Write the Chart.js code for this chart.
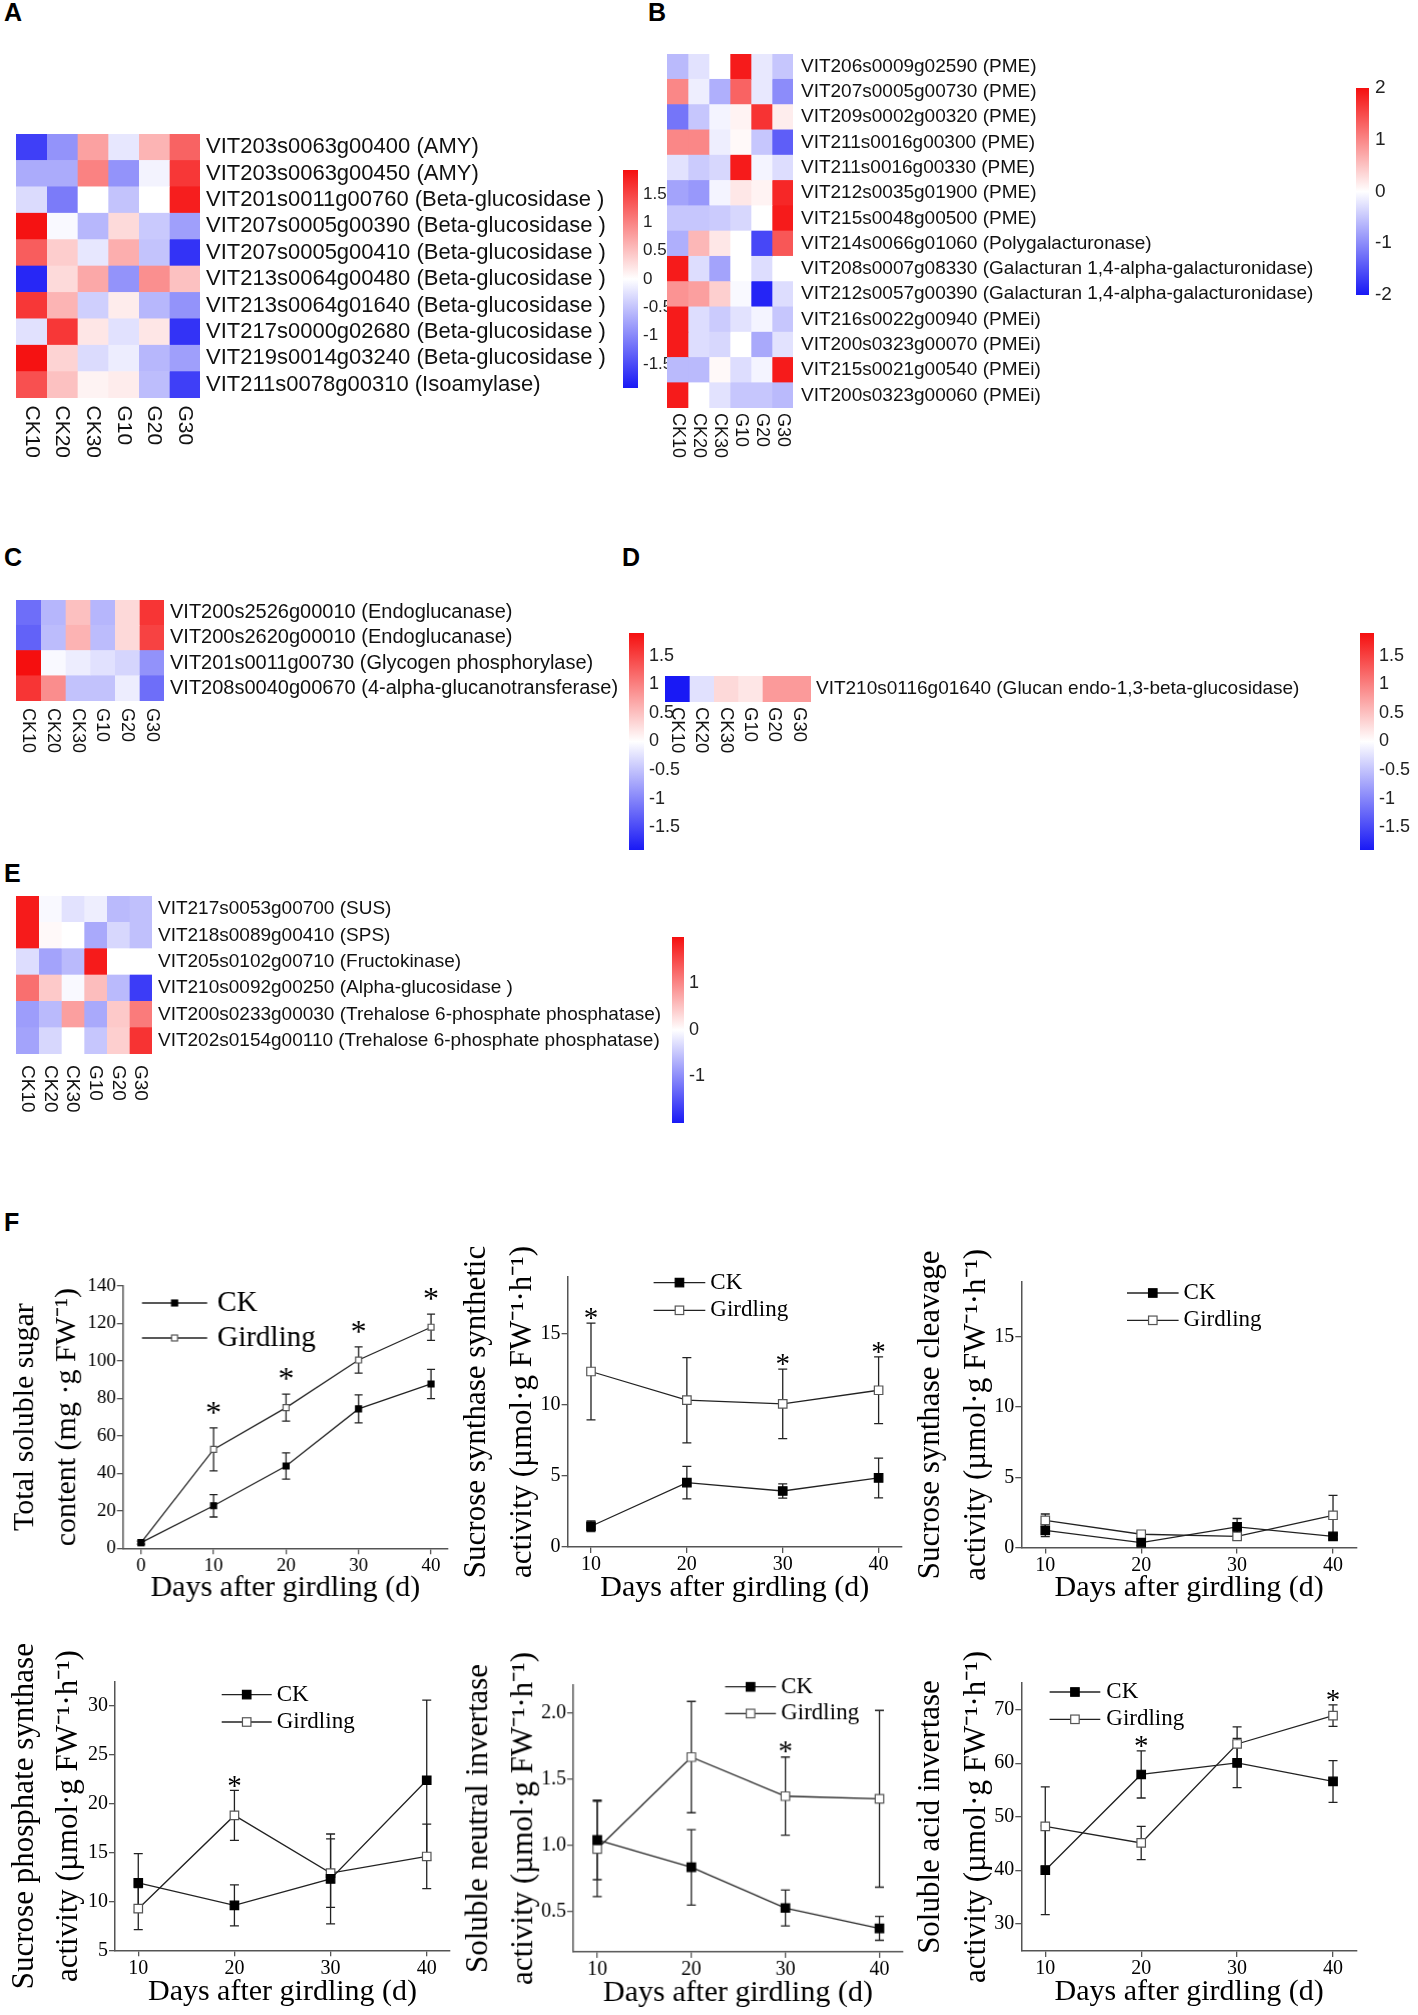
<!DOCTYPE html>
<html><head><meta charset="utf-8">
<script src="https://cdn.jsdelivr.net/npm/chart.js@4.4.1/dist/chart.umd.min.js"></script>
<style>
html,body{margin:0;padding:0;background:#fff;}
#page{position:relative;width:1418px;height:2015px;overflow:hidden;background:#fff;}
.box{position:absolute;}
.box canvas{display:block;}
.letter{position:absolute;font:bold 25px "Liberation Sans",Arial,sans-serif;line-height:1;color:#000;}
</style></head><body><div id="page"></div>
<script>
// ---------------- DATA ----------------
const sampleCols = ['CK10','CK20','CK30','G10','G20','G30'];

const rowsA = ['VIT203s0063g00400 (AMY)','VIT203s0063g00450 (AMY)','VIT201s0011g00760 (Beta-glucosidase )','VIT207s0005g00390 (Beta-glucosidase )','VIT207s0005g00410 (Beta-glucosidase )','VIT213s0064g00480 (Beta-glucosidase )','VIT213s0064g01640 (Beta-glucosidase )','VIT217s0000g02680 (Beta-glucosidase )','VIT219s0014g03240 (Beta-glucosidase )','VIT211s0078g00310 (Isoamylase)'];
const heatA = [
  [-1.6,-0.9, 0.75,-0.2, 0.6, 1.25],
  [-0.7,-0.7, 1.0,-0.9,-0.1, 1.6],
  [-0.3,-1.1, 0.0,-0.5, 0.0, 1.8],
  [ 1.9,-0.05,-0.6, 0.3,-0.45,-0.8],
  [ 1.3, 0.4,-0.2, 0.65,-0.5,-1.7],
  [-1.8, 0.3, 0.7,-0.9, 0.9, 0.5],
  [ 1.6, 0.6,-0.4, 0.15,-0.6,-0.9],
  [-0.25, 1.6, 0.2,-0.25, 0.2,-1.7],
  [ 1.9, 0.35,-0.3,-0.15,-0.6,-0.8],
  [ 1.4, 0.5, 0.1, 0.15,-0.55,-1.6]
];

const rowsB = ['VIT206s0009g02590 (PME)','VIT207s0005g00730 (PME)','VIT209s0002g00320 (PME)','VIT211s0016g00300 (PME)','VIT211s0016g00330 (PME)','VIT212s0035g01900 (PME)','VIT215s0048g00500 (PME)','VIT214s0066g01060 (Polygalacturonase)','VIT208s0007g08330 (Galacturan 1,4-alpha-galacturonidase)','VIT212s0057g00390 (Galacturan 1,4-alpha-galacturonidase)','VIT216s0022g00940 (PMEi)','VIT200s0323g00070 (PMEi)','VIT215s0021g00540 (PMEi)','VIT200s0323g00060 (PMEi)'];
const heatB = [
  [-0.6,-0.25, 0.0, 1.9,-0.2,-0.5],
  [ 1.0,-0.15,-0.7, 1.3,-0.2,-1.0],
  [-1.2,-0.5,-0.1, 0.1, 1.7, 0.15],
  [ 1.0, 1.0,-0.15, 0.05,-0.5,-1.4],
  [-0.25,-0.45,-0.35, 1.9,-0.1,-0.3],
  [-0.8,-0.9,-0.1, 0.2, 0.1, 1.8],
  [-0.5,-0.5,-0.45,-0.35, 0.0, 1.9],
  [-0.7, 0.6, 0.2, 0.0,-1.6, 1.4],
  [ 1.9,-0.3,-0.8, 0.0,-0.3, 0.0],
  [ 0.9, 0.8, 0.4,-0.05,-1.9,-0.3],
  [ 1.9,-0.3,-0.45,-0.25,-0.1,-0.5],
  [ 1.9,-0.3,-0.35, 0.0,-0.75,-0.25],
  [-0.6,-0.6, 0.05,-0.3,-0.1, 1.9],
  [ 1.9, 0.0,-0.25,-0.5,-0.5,-0.6]
];

const rowsC = ['VIT200s2526g00010 (Endoglucanase)','VIT200s2620g00010 (Endoglucanase)','VIT201s0011g00730 (Glycogen phosphorylase)','VIT208s0040g00670 (4-alpha-glucanotransferase)'];
const heatC = [
  [-1.2,-0.6, 0.5,-0.6, 0.3, 1.6],
  [-1.3,-0.55, 0.6,-0.55, 0.3, 1.5],
  [ 1.9,-0.05,-0.15,-0.25,-0.35,-0.9],
  [ 1.6, 0.9,-0.5,-0.5,-0.15,-1.2]
];

const rowsD = ['VIT210s0116g01640 (Glucan endo-1,3-beta-glucosidase)'];
const heatD = [[-1.9,-0.25, 0.3, 0.2, 0.8, 0.8]];

const rowsE = ['VIT217s0053g00700 (SUS)','VIT218s0089g00410 (SPS)','VIT205s0102g00710 (Fructokinase)','VIT210s0092g00250 (Alpha-glucosidase )','VIT200s0233g00030 (Trehalose 6-phosphate phosphatase)','VIT202s0154g00110 (Trehalose 6-phosphate phosphatase)'];
const heatE = [
  [ 1.9,-0.05,-0.25,-0.15,-0.6,-0.55],
  [ 1.9, 0.05, 0.0,-0.75,-0.35,-0.55],
  [-0.3,-0.8,-0.6, 1.9, 0.0, 0.0],
  [ 1.2, 0.45,-0.05, 0.55,-0.6,-1.7],
  [-0.85,-0.6, 0.8,-0.75, 0.45, 1.1],
  [-0.8,-0.35, 0.0,-0.5, 0.4, 1.7]
];

const cbTicksA = [-1.5,-1,-0.5,0,0.5,1,1.5];
const cbTicksB = [-2,-1,0,1,2];
const cbTicksE = [-1,0,1];

const daysSugar = [0,10,20,30,40];
const days = [10,20,30,40];
const sugarXTicks = [0,10,20,30,40];
const dayTicks = [10,20,30,40];

const sugarCK = [3, 22.7, 43.9, 74.4, 87.7];
const sugarCKsd = [0.8, 6.0, 7.0, 7.5, 7.8];
const sugarG = [3, 52.8, 75.1, 100.5, 118];
const sugarGsd = [0.8, 11.5, 7.2, 7.0, 7.0];
const sugarStars = [0,1,1,1,1];
const sugarYTicks = [0,20,40,60,80,100,120,140];

const ssynCK = [1.46, 4.53, 3.94, 4.86];
const ssynCKsd = [0.37, 1.15, 0.5, 1.4];
const ssynG = [12.35, 10.33, 10.07, 11.03];
const ssynGsd = [3.4, 3.0, 2.45, 2.35];
const ssynStars = [1,0,1,1];
const ssynYTicks = [0,5,10,15];

const sclvCK = [1.23, 0.36, 1.47, 0.8];
const sclvCKsd = [0.45, 0.2, 0.6, 0.2];
const sclvG = [1.94, 0.95, 0.8, 2.3];
const sclvGsd = [0.45, 0.15, 0.25, 1.42];
const sclvStars = [0,0,0,0];
const sclvYTicks = [0,5,10,15];

const spsCK = [11.9, 9.6, 12.3, 22.4];
const spsCKsd = [3.0, 2.1, 4.6, 8.2];
const spsG = [9.26, 18.8, 12.9, 14.6];
const spsGsd = [2.15, 2.56, 3.5, 3.3];
const spsStars = [0,1,0,0];
const spsYTicks = [5,10,15,20,25,30];

const sniCK = [1.042, 0.835, 0.528, 0.374];
const sniCKsd = [0.3, 0.285, 0.135, 0.09];
const sniG = [0.974, 1.667, 1.372, 1.352];
const sniGsd = [0.36, 0.42, 0.295, 0.667];
const sniStars = [0,0,1,0];
const sniYTicks = [0.5,1.0,1.5,2.0];

const saiCK = [40.0, 57.9, 60.06, 56.6];
const saiCKsd = [8.3, 4.4, 4.6, 3.9];
const saiG = [48.2, 45.1, 63.6, 68.9];
const saiGsd = [7.4, 3.1, 3.2, 2.0];
const saiStars = [0,1,0,1];
const saiYTicks = [30,40,50,60,70];

const seriesNames = ['CK','Girdling'];

// ---------------- HELPERS ----------------
const SANS = '"Liberation Sans", Arial, sans-serif';
const SERIF = '"Liberation Serif", "Times New Roman", serif';
const BLUE = [25,25,245], RED = [245,15,15];
function heatColor(v, range) {
  let t = Math.max(-1, Math.min(1, v / range));
  const end = t < 0 ? BLUE : RED; t = Math.abs(t);
  const c = end.map(e => Math.round(255 + (e - 255) * t));
  return `rgb(${c[0]},${c[1]},${c[2]})`;
}
const page = document.getElementById('page');
function makeBox(left, top, width, height) {
  const d = document.createElement('div'); d.className = 'box';
  Object.assign(d.style, {left: left + 'px', top: top + 'px', width: width + 'px', height: height + 'px'});
  const c = document.createElement('canvas'); d.appendChild(c); page.appendChild(d); return c;
}
function letter(t, x, y) {
  const d = document.createElement('div'); d.className = 'letter'; d.textContent = t;
  d.style.left = x + 'px'; d.style.top = (y - 3) + 'px'; page.appendChild(d);
}

function heatmap(rows, values, range, g) {
  const canvas = makeBox(g.x, g.y, g.w + g.labelW, g.h + g.colSpace);
  const colPlugin = { id: 'colLabels', afterDraw(chart) {
    const ctx = chart.ctx, xs = chart.scales.x, ca = chart.chartArea;
    ctx.save(); ctx.fillStyle = '#111'; ctx.font = g.colFont + 'px ' + SANS;
    ctx.textAlign = 'left'; ctx.textBaseline = 'middle';
    sampleCols.forEach((c, j) => {
      const x = xs.getPixelForValue(j + 0.5);
      ctx.save(); ctx.translate(x, ca.bottom + g.colGap); ctx.rotate(Math.PI / 2); ctx.fillText(c, 0, 0); ctx.restore();
    });
    ctx.restore();
  }};
  new Chart(canvas, {
    type: 'bar',
    data: { labels: rows, datasets: sampleCols.map((c, j) => ({
      label: c, data: rows.map(() => 1),
      backgroundColor: rows.map((_, i) => heatColor(values[i][j], range)),
      borderWidth: 0, barPercentage: 1, categoryPercentage: 1 })) },
    options: {
      indexAxis: 'y', responsive: true, maintainAspectRatio: false, animation: false, events: [],
      layout: { padding: { top: 0, left: 0, right: 0, bottom: g.colSpace } },
      plugins: { legend: { display: false }, tooltip: { enabled: false } },
      scales: {
        x: { type: 'linear', stacked: true, min: 0, max: sampleCols.length, display: false },
        y: { type: 'category', stacked: true, position: 'right', offset: true,
             grid: { display: false, drawTicks: false }, border: { display: false },
             ticks: { autoSkip: false, padding: g.rowGap, color: '#111', font: { family: SANS, size: g.rowFont } },
             afterFit: s => { s.width = g.labelW; s.paddingTop = 0; s.paddingBottom = 0; } }
      }
    },
    plugins: [colPlugin]
  });
}

function colorbar(range, ticks, g) {
  const labelW = 60, pad = 15;
  const canvas = makeBox(g.x, g.y - pad, g.w + labelW, g.h + 2 * pad);
  new Chart(canvas, {
    type: 'bar',
    data: { labels: [''], datasets: [{ data: [[-range, range]], borderWidth: 0, barPercentage: 1, categoryPercentage: 1,
      backgroundColor: (c) => {
        const { ctx, chartArea } = c.chart; if (!chartArea) return '#fff';
        const gr = ctx.createLinearGradient(0, chartArea.bottom, 0, chartArea.top);
        gr.addColorStop(0, heatColor(-range, range)); gr.addColorStop(0.5, '#ffffff'); gr.addColorStop(1, heatColor(range, range));
        return gr;
      } }] },
    options: {
      responsive: true, maintainAspectRatio: false, animation: false, events: [],
      layout: { padding: { top: pad, bottom: pad, left: 0, right: 0 } },
      plugins: { legend: { display: false }, tooltip: { enabled: false } },
      scales: {
        x: { display: false },
        y: { type: 'linear', min: -range, max: range, position: 'right',
             grid: { display: false, drawTicks: false }, border: { display: false },
             afterBuildTicks: s => { s.ticks = ticks.map(v => ({ value: v })); },
             ticks: { padding: g.gap, color: '#222', font: { family: SANS, size: g.font }, callback: v => String(v) },
             afterFit: s => { s.width = labelW; s.paddingTop = 0; s.paddingBottom = 0; } }
      }
    }
  });
}

function lineChart(sp) {
  const p = sp.plot;
  const left = sp.titleL, top = p.t - sp.padTop;
  const width = p.r + sp.padRight - left;
  const height = p.b + sp.H - top;
  const canvas = makeBox(left, top, width, height);
  const series = [
    { name: seriesNames[0], vals: sp.ck, sd: sp.ckSd, filled: true },
    { name: seriesNames[1], vals: sp.g, sd: sp.gSd, filled: false }
  ];
  const drawMarker = (ctx, x, y, r, filled) => {
    const s = Math.SQRT2 * r;
    ctx.fillStyle = filled ? '#000' : '#fff';
    ctx.fillRect(x - s / 2, y - s / 2, s, s);
    ctx.lineWidth = 1.2; ctx.strokeStyle = filled ? '#000' : '#555';
    ctx.strokeRect(x - s / 2, y - s / 2, s, s);
  };
  const extras = {
    id: 'extras',
    beforeDatasetsDraw(chart) {
      const ctx = chart.ctx, xs = chart.scales.x, ys = chart.scales.y;
      ctx.save(); ctx.strokeStyle = '#222'; ctx.lineWidth = 1.3;
      series.forEach(s => s.vals.forEach((v, i) => {
        const px = xs.getPixelForValue(sp.xs[i]);
        const pt = ys.getPixelForValue(v + s.sd[i]), pb = ys.getPixelForValue(v - s.sd[i]);
        ctx.beginPath();
        ctx.moveTo(px, pt); ctx.lineTo(px, pb);
        ctx.moveTo(px - sp.cap, pt); ctx.lineTo(px + sp.cap, pt);
        ctx.moveTo(px - sp.cap, pb); ctx.lineTo(px + sp.cap, pb);
        ctx.stroke();
      }));
      ctx.restore();
    },
    afterDatasetsDraw(chart) {
      const ctx = chart.ctx, xs = chart.scales.x, ys = chart.scales.y;
      ctx.save(); ctx.fillStyle = '#000'; ctx.font = sp.starSize + 'px ' + SERIF;
      ctx.textAlign = 'center'; ctx.textBaseline = 'alphabetic';
      sp.stars.forEach((st, i) => {
        if (!st) return;
        const topV = Math.max(...series.map(s => s.vals[i] + s.sd[i]));
        const px = xs.getPixelForValue(sp.xs[i]);
        const cy = ys.getPixelForValue(topV) - sp.starGap;
        ctx.fillText('*', px, cy + 0.47 * sp.starSize);
      });
      // legend
      const ca = chart.chartArea, lg = sp.legend;
      series.forEach((s, k) => {
        const y = ca.top + lg.dys[k];
        ctx.strokeStyle = '#222'; ctx.lineWidth = 1.3;
        ctx.beginPath(); ctx.moveTo(ca.left + lg.x0, y); ctx.lineTo(ca.left + lg.x1, y); ctx.stroke();
        drawMarker(ctx, ca.left + (lg.x0 + lg.x1) / 2, y, lg.r, s.filled);
        ctx.fillStyle = '#000'; ctx.font = lg.size + 'px ' + SERIF; ctx.textAlign = 'left'; ctx.textBaseline = 'middle';
        ctx.fillText(s.name, ca.left + lg.tx, y);
      });
      ctx.restore();
    }
  };
  const axisCommon = {
    grid: { display: true, drawOnChartArea: false, drawTicks: true, tickLength: 6, color: '#555', lineWidth: 1.3 },
    border: { display: true, color: '#555', width: 1.5 }
  };
  new Chart(canvas, {
    type: 'line',
    data: { datasets: series.map(s => ({
      label: s.name, data: sp.xs.map((x, i) => ({ x, y: s.vals[i] })),
      borderColor: '#222', borderWidth: 1.3, tension: 0, clip: false,
      pointStyle: 'rect', pointRadius: sp.pointR, pointHoverRadius: sp.pointR,
      pointBackgroundColor: s.filled ? '#000' : '#fff', pointBorderColor: s.filled ? '#000' : '#555', pointBorderWidth: 1.2
    })) },
    options: {
      responsive: true, maintainAspectRatio: false, animation: false, events: [],
      layout: { padding: { top: sp.padTop, right: sp.padRight, left: 0, bottom: 0 } },
      plugins: { legend: { display: false }, tooltip: { enabled: false } },
      scales: {
        x: Object.assign({ type: 'linear', min: sp.xMin, max: sp.xMax,
          afterBuildTicks: s => { s.ticks = sp.xTicks.map(v => ({ value: v })); },
          ticks: { color: '#000', padding: 0, maxRotation: 0, autoSkip: false, font: { family: SERIF, size: sp.tickSize }, callback: v => String(v) },
          title: { display: true, text: 'Days after girdling (d)', color: '#000', padding: 0, font: { family: SERIF, size: 30, lineHeight: 1.2 } },
          afterFit: s => { s.height = sp.H; s.paddingLeft = 0; s.paddingRight = 0; } }, axisCommon),
        y: Object.assign({ type: 'linear', min: sp.yMin, max: sp.yMax,
          afterBuildTicks: s => { s.ticks = sp.yTicks.map(v => ({ value: v })); },
          ticks: { color: '#000', padding: 1, autoSkip: false, font: { family: SERIF, size: sp.tickSize }, callback: sp.fmt || (v => String(v)) },
          title: { display: true, text: sp.yTitle, color: '#000', padding: 0, font: { family: SERIF, size: sp.yTitleSize, lineHeight: sp.yTitleLH } },
          afterFit: s => { s.width = p.l - left; s.paddingTop = 0; s.paddingBottom = 0; } }, axisCommon)
      }
    },
    plugins: [extras]
  });
}

// ---------------- LAYOUT ----------------
letter('A', 4, 3); letter('B', 648, 3); letter('C', 4, 548); letter('D', 622, 548); letter('E', 4, 864); letter('F', 4, 1213);

heatmap(rowsA, heatA, 1.92, { x: 16, y: 133.5, w: 184, h: 264, labelW: 420, rowFont: 22, rowGap: 6, colFont: 21, colGap: 7.5, colSpace: 70 });
colorbar(1.92, cbTicksA, { x: 623, y: 170, w: 15, h: 218, font: 17, gap: 5 });

heatmap(rowsB, heatB, 2, { x: 667, y: 54, w: 126, h: 354, labelW: 540, rowFont: 19, rowGap: 8, colFont: 18, colGap: 5, colSpace: 60 });
colorbar(2, cbTicksB, { x: 1356, y: 88, w: 13, h: 207, font: 19, gap: 6 });

heatmap(rowsC, heatC, 1.9, { x: 15.5, y: 600, w: 148, h: 101, labelW: 470, rowFont: 20, rowGap: 6, colFont: 18, colGap: 7, colSpace: 60 });
colorbar(1.9, cbTicksA, { x: 629, y: 633, w: 15, h: 217, font: 18, gap: 5 });

heatmap(rowsD, heatD, 1.9, { x: 665, y: 676, w: 146, h: 26, labelW: 510, rowFont: 19, rowGap: 5, colFont: 18.5, colGap: 5, colSpace: 60 });
colorbar(1.9, cbTicksA, { x: 1360, y: 633, w: 14, h: 217, font: 18, gap: 5 });

heatmap(rowsE, heatE, 2, { x: 15.5, y: 896, w: 136, h: 158, labelW: 520, rowFont: 19, rowGap: 6, colFont: 19, colGap: 11, colSpace: 60 });
colorbar(2, cbTicksE, { x: 672, y: 937, w: 12, h: 186, font: 18, gap: 5 });

const actTitle = 'activity (\u00b5mol\u00b7g FW\u207b\u00b9\u00b7h\u207b\u00b9)';

lineChart({ plot: { l: 122.7, t: 1286, r: 446.7, b: 1548.3 }, titleL: 4, padTop: 40, padRight: 12, H: 57.7,
  xs: daysSugar, xMin: -2.5, xMax: 42.3, xTicks: sugarXTicks, yMin: 0, yMax: 140, yTicks: sugarYTicks,
  ck: sugarCK, ckSd: sugarCKsd, g: sugarG, gSd: sugarGsd, stars: sugarStars,
  yTitle: ['Total soluble sugar', 'content (mg \u00b7g FW\u207b\u00b9)'], yTitleSize: 30, yTitleLH: 1.4, tickSize: 19,
  pointR: 4.2, cap: 4, starGap: 20, starSize: 32,
  legend: { x0: 19, x1: 84, tx: 94, dys: [17, 52], size: 29, r: 4.2 } });

lineChart({ plot: { l: 567.3, t: 1276.7, r: 901.7, b: 1546.7 }, titleL: 453.7, padTop: 40, padRight: 12, H: 59.3,
  xs: days, xMin: 7.56, xMax: 42.44, xTicks: dayTicks, yMin: 0, yMax: 19, yTicks: ssynYTicks,
  ck: ssynCK, ckSd: ssynCKsd, g: ssynG, gSd: ssynGsd, stars: ssynStars,
  yTitle: ['Sucrose synthase synthetic', actTitle], yTitleSize: 31, yTitleLH: 1.48, tickSize: 20,
  pointR: 6.0, cap: 4.5, starGap: 9.5, starSize: 29,
  legend: { x0: 86, x1: 137.7, tx: 142.7, dys: [5.6, 33.3], size: 23, r: 6.0 } });

lineChart({ plot: { l: 1021, t: 1281.7, r: 1356.7, b: 1547.3 }, titleL: 907.7, padTop: 40, padRight: 12, H: 59,
  xs: days, xMin: 7.5, xMax: 42.5, xTicks: dayTicks, yMin: 0, yMax: 18.9, yTicks: sclvYTicks,
  ck: sclvCK, ckSd: sclvCKsd, g: sclvG, gSd: sclvGsd, stars: sclvStars,
  yTitle: ['Sucrose synthase cleavage', actTitle], yTitleSize: 31, yTitleLH: 1.48, tickSize: 20,
  pointR: 6.0, cap: 4.5, starGap: 9.5, starSize: 29,
  legend: { x0: 105.7, x1: 157.3, tx: 162.3, dys: [11, 38.3], size: 23, r: 6.0 } });

lineChart({ plot: { l: 115, t: 1681.7, r: 450, b: 1950 }, titleL: 3, padTop: 40, padRight: 12, H: 59.7,
  xs: days, xMin: 7.58, xMax: 42.42, xTicks: dayTicks, yMin: 5, yMax: 32.45, yTicks: spsYTicks,
  ck: spsCK, ckSd: spsCKsd, g: spsG, gSd: spsGsd, stars: spsStars,
  yTitle: ['Sucrose phosphate synthase', actTitle], yTitleSize: 31, yTitleLH: 1.42, tickSize: 20,
  pointR: 6.0, cap: 4.5, starGap: 9.5, starSize: 29,
  legend: { x0: 106.7, x1: 156.7, tx: 161.7, dys: [12.6, 40], size: 23, r: 6.0 } });

lineChart({ plot: { l: 572.7, t: 1685, r: 901.7, b: 1951 }, titleL: 455.8, padTop: 40, padRight: 12, H: 58.7,
  xs: days, xMin: 7.44, xMax: 42.49, xTicks: dayTicks, yMin: 0.197, yMax: 2.21, yTicks: sniYTicks,
  ck: sniCK, ckSd: sniCKsd, g: sniG, gSd: sniGsd, stars: sniStars, fmt: v => Number(v).toFixed(1),
  yTitle: ['Soluble neutral invertase', actTitle], yTitleSize: 31, yTitleLH: 1.45, tickSize: 20,
  pointR: 6.0, cap: 4.5, starGap: 10.5, starSize: 29,
  legend: { x0: 151.6, x1: 202.3, tx: 207.3, dys: [1.7, 28.3], size: 23, r: 6.0 } });

lineChart({ plot: { l: 1021, t: 1682.7, r: 1356.7, b: 1950.7 }, titleL: 907.7, padTop: 40, padRight: 12, H: 59,
  xs: days, xMin: 7.5, xMax: 42.5, xTicks: dayTicks, yMin: 24.9, yMax: 75, yTicks: saiYTicks,
  ck: saiCK, ckSd: saiCKsd, g: saiG, gSd: saiGsd, stars: saiStars,
  yTitle: ['Soluble acid invertase', actTitle], yTitleSize: 31, yTitleLH: 1.48, tickSize: 20,
  pointR: 6.0, cap: 4.5, starGap: 9.5, starSize: 29,
  legend: { x0: 28.3, x1: 79, tx: 85, dys: [9, 36.3], size: 23, r: 6.0 } });
</script>
</body></html>
